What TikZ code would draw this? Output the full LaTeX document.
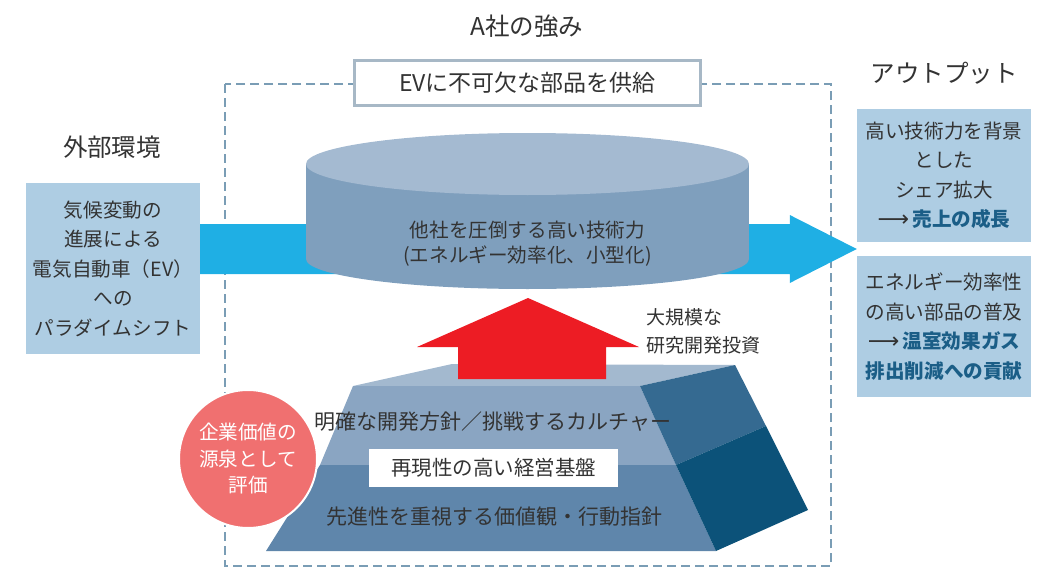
\documentclass[tikz,border=0pt]{standalone}
\usepackage{fontspec}
\setmainfont{Noto Sans CJK JP}
\newfontfamily\arrowfont{DejaVu Sans}
\usetikzlibrary{calc,positioning}
\definecolor{txt}{HTML}{333333}
\definecolor{boxblue}{HTML}{AECDE3}
\definecolor{flowblue}{HTML}{1FAFE4}
\definecolor{dashblue}{HTML}{7A9DB5}
\definecolor{framegray}{HTML}{A7B8C6}
\definecolor{cyltop}{HTML}{A4BAD1}
\definecolor{cylside}{HTML}{7F9FBD}
\definecolor{pyrtop}{HTML}{A3B9CF}
\definecolor{pyrmid}{HTML}{8AA5C2}
\definecolor{pyrlow}{HTML}{5F86AB}
\definecolor{sidemid}{HTML}{356A91}
\definecolor{sidelow}{HTML}{0C5279}
\definecolor{accent}{HTML}{1B5E87}
\definecolor{redarrow}{HTML}{ED1C24}
\definecolor{redcircle}{HTML}{F07070}
\newcommand{\fs}[2]{\fontsize{#1}{#2}\selectfont}
\newcommand{\hl}[1]{\textcolor{accent}{\bfseries #1}}
\newcommand{\outarrow}{{\arrowfont\fontsize{22}{22}\selectfont ⟶}\,}

\begin{document}
\begin{tikzpicture}[x=1pt,y=-1pt]
\useasboundingbox (0,0) rectangle (1037,570);
\tikzstyle{every node} = [text=txt, inner sep=0pt]
\tikzstyle{head} = [font=\fs{24.5}{28}]
\tikzstyle{infobox} = [fill=boxblue, minimum width=174pt, align=center, font=\fs{19.6}{29.5}]
\tikzstyle{layer} = [font=\fs{21}{24}]
% corners of the pyramid
\coordinate (A) at (353,386);
\coordinate (B) at (452,364);
\coordinate (C) at (735,365);
\coordinate (D) at (640,386);
\coordinate (E) at (320,465);
\coordinate (F) at (676,465);
\coordinate (G) at (766,426);
\coordinate (H) at (266,551);
\coordinate (I) at (716,551);
\coordinate (J) at (808,510);
% frame of the company
\draw[dashblue, line width=2.2pt, dash pattern=on 9pt off 5pt] (225,84) rectangle (831,566);
\node[head] (title) at (527,26) {A社の強み};
\node[head] (envtitle) at (112,147) {外部環境};
\node[head] (outtitle) at (944,73) {アウトプット};
\node[infobox, minimum height=171pt] (env) at (113,268.5)
  {気候変動の\\進展による\\電気自動車（EV）\\への\\パラダイムシフト};
\node[infobox, minimum height=133pt] (out1) at (944,175.5)
  {高い技術力を背景\\とした\\シェア拡大\\\outarrow\hl{売上の成長}};
\node[infobox, minimum height=141pt, font=\fs{19.6}{29.7}] (out2) at (944,326.5)
  {エネルギー効率性\\の高い部品の普及\\\outarrow\hl{温室効果ガス}\\\hl{排出削減への貢献}};
% flow arrow
\coordinate (tip) at ($(out1.south west)!.5!(out2.north west)$);
\coordinate (from) at (env.east |- tip);
\fill[flowblue] ($(from)+(0,-25)$) -- ($(tip)+(-67,-25)$) -- ($(tip)+(-67,-34)$) -- (tip)
  -- ($(tip)+(-67,34)$) -- ($(tip)+(-67,25)$) -- ($(from)+(0,25)$) -- cycle;
% cylinder
\fill[cylside] (306,164) rectangle (749,259);
\fill[cylside] (527.5,259) ellipse [x radius=221.5pt, y radius=30pt];
\fill[cyltop] (527.5,164) ellipse [x radius=221.5pt, y radius=31pt];
\node[align=center, font=\fs{19.6}{25}] (tech) at (527.5,244)
  {他社を圧倒する高い技術力\\(エネルギー効率化、小型化)};
\node[draw=framegray, line width=3pt, fill=white, minimum width=346pt, minimum height=45pt,
  font=\fs{23}{23}] (supply) at (527.5,83) {EVに不可欠な部品を供給};
% pyramid
\fill[pyrtop] (A) -- (B) -- (C) -- (D) -- cycle;
\fill[pyrmid] (A) -- (D) -- (F) -- (E) -- cycle;
\fill[pyrlow] (E) -- (F) -- (I) -- (H) -- cycle;
\fill[sidemid] (D) -- (C) -- (G) -- (F) -- cycle;
\fill[sidelow] (F) -- (G) -- (J) -- (I) -- cycle;
\fill[redarrow] (458,379) -- (458,347) -- (417,347) -- (528,298) -- (639,347) -- (606,347)
  -- (606,379) -- cycle;
\node[align=left, anchor=west, font=\fs{19}{28}] (invest) at (646,331) {大規模な\\研究開発投資};
\node[layer] (culture) at (493,422) {明確な開発方針／挑戦するカルチャー};
\node[layer, fill=white, minimum width=249pt, minimum height=38pt, font=\fs{20.5}{24}] (base)
  at (493.5,468) {再現性の高い経営基盤};
\node[layer] (values) at (494,517) {先進性を重視する価値観・行動指針};
\node[circle, fill=redcircle, draw=white, line width=2pt, minimum size=138pt, text=white,
  align=center, font=\fs{19.6}{26.5}] (worth) at (248,459) {企業価値の\\源泉として\\評価};
\end{tikzpicture}
\end{document}
